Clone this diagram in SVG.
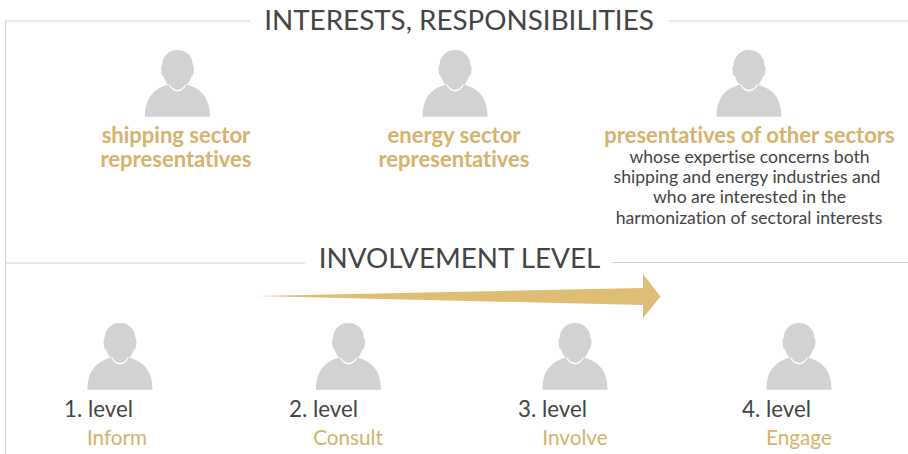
<svg xmlns="http://www.w3.org/2000/svg" width="908" height="454" viewBox="0 0 908 454">
<style>
text{font-family:"Lato","Noto Sans",sans-serif;text-anchor:middle;font-variant-ligatures:none}
.h{font-size:27.8px;fill:#444}
.g{font-size:22px;font-weight:700;fill:#d6b26c}
.d{font-size:17.6px;fill:#444}
.l{font-size:22.3px;fill:#444}
.s{font-size:20.7px;fill:#d6b26c}
.r{stroke:#cfcfcf;stroke-width:1.2;fill:none}
</style>
<defs>
<symbol id="p" overflow="visible" viewBox="-33 0 66 67" width="66" height="67">
<path fill="#d2d2d2" d="M-8.500 34.500C-6 39 -3 41.500 0 41.500C3 41.500 6 39 8.500 34.500C24 38.500 32.500 48 32.500 66.700H-32.500C-32.500 48 -24 38.500 -8.500 34.500Z"/>
<path fill="#d2d2d2" d="M0 0C9 0 15 6 15.500 15.500C16.500 16 16.500 17 16.500 19L16 24C15.500 25.500 15 26 14 26C12.500 32 8 38.500 0 40C-8 38.500 -12.500 32 -14 26C-15 26 -15.500 25.500 -16 24L-16.500 19C-16.500 17 -16.500 16 -15.500 15.500C-15 6 -9 0 0 0Z"/>
<path fill="none" stroke="#fff" stroke-width="1.300" d="M-8.500 34.500C-6 38.500 -3 40.700 0 40.700C3 40.700 6 38.500 8.500 34.500"/>
</symbol>
</defs>
<g id="connectors">
<path class="r" d="M250 21H5.500V454"/>
<path class="r" d="M669 21H908"/>
<path class="r" d="M5.500 263H305"/>
<path class="r" d="M612 262.500H908"/>
</g>
<g id="title-interests"><text class="h" x="459" y="29.500">INTERESTS, RESPONSIBILITIES</text></g>
<g id="title-involvement"><text class="h" x="459.500" y="268">INVOLVEMENT LEVEL</text></g>
<g id="arrow"><path fill="#e0bd74" d="M257 296L643 288V274L660.500 296.500L643 318V305Z"/></g>
<g id="node-shipping">
<use href="#p" x="144.500" y="50"/>
<text class="g" x="176" y="142.500">shipping sector</text>
<text class="g" x="176" y="166.500">representatives</text>
</g>
<g id="node-energy">
<use href="#p" x="422" y="50"/>
<text class="g" x="454" y="142.500">energy sector</text>
<text class="g" x="454" y="166.500">representatives</text>
</g>
<g id="node-other">
<use href="#p" x="716" y="50"/>
<text class="g" x="749.500" y="142.500">presentatives of other sectors</text>
<text class="d" x="749.500" y="162.500">whose expertise concerns both</text>
<text class="d" x="747" y="182.500">shipping and energy industries and</text>
<text class="d" x="749.500" y="203">who are interested in the</text>
<text class="d" x="749" y="224">harmonization of sectoral interests</text>
</g>
<g id="node-level1">
<use href="#p" x="87" y="323"/>
<text class="l" x="98.500" y="417">1. level</text>
<text class="s" x="117" y="445">Inform</text>
</g>
<g id="node-level2">
<use href="#p" x="315.500" y="323"/>
<text class="l" x="323.500" y="417">2. level</text>
<text class="s" x="348" y="445">Consult</text>
</g>
<g id="node-level3">
<use href="#p" x="542" y="323"/>
<text class="l" x="552.500" y="417">3. level</text>
<text class="s" x="575" y="445">Involve</text>
</g>
<g id="node-level4">
<use href="#p" x="766" y="323"/>
<text class="l" x="776.500" y="417">4. level</text>
<text class="s" x="799" y="445">Engage</text>
</g>
</svg>
